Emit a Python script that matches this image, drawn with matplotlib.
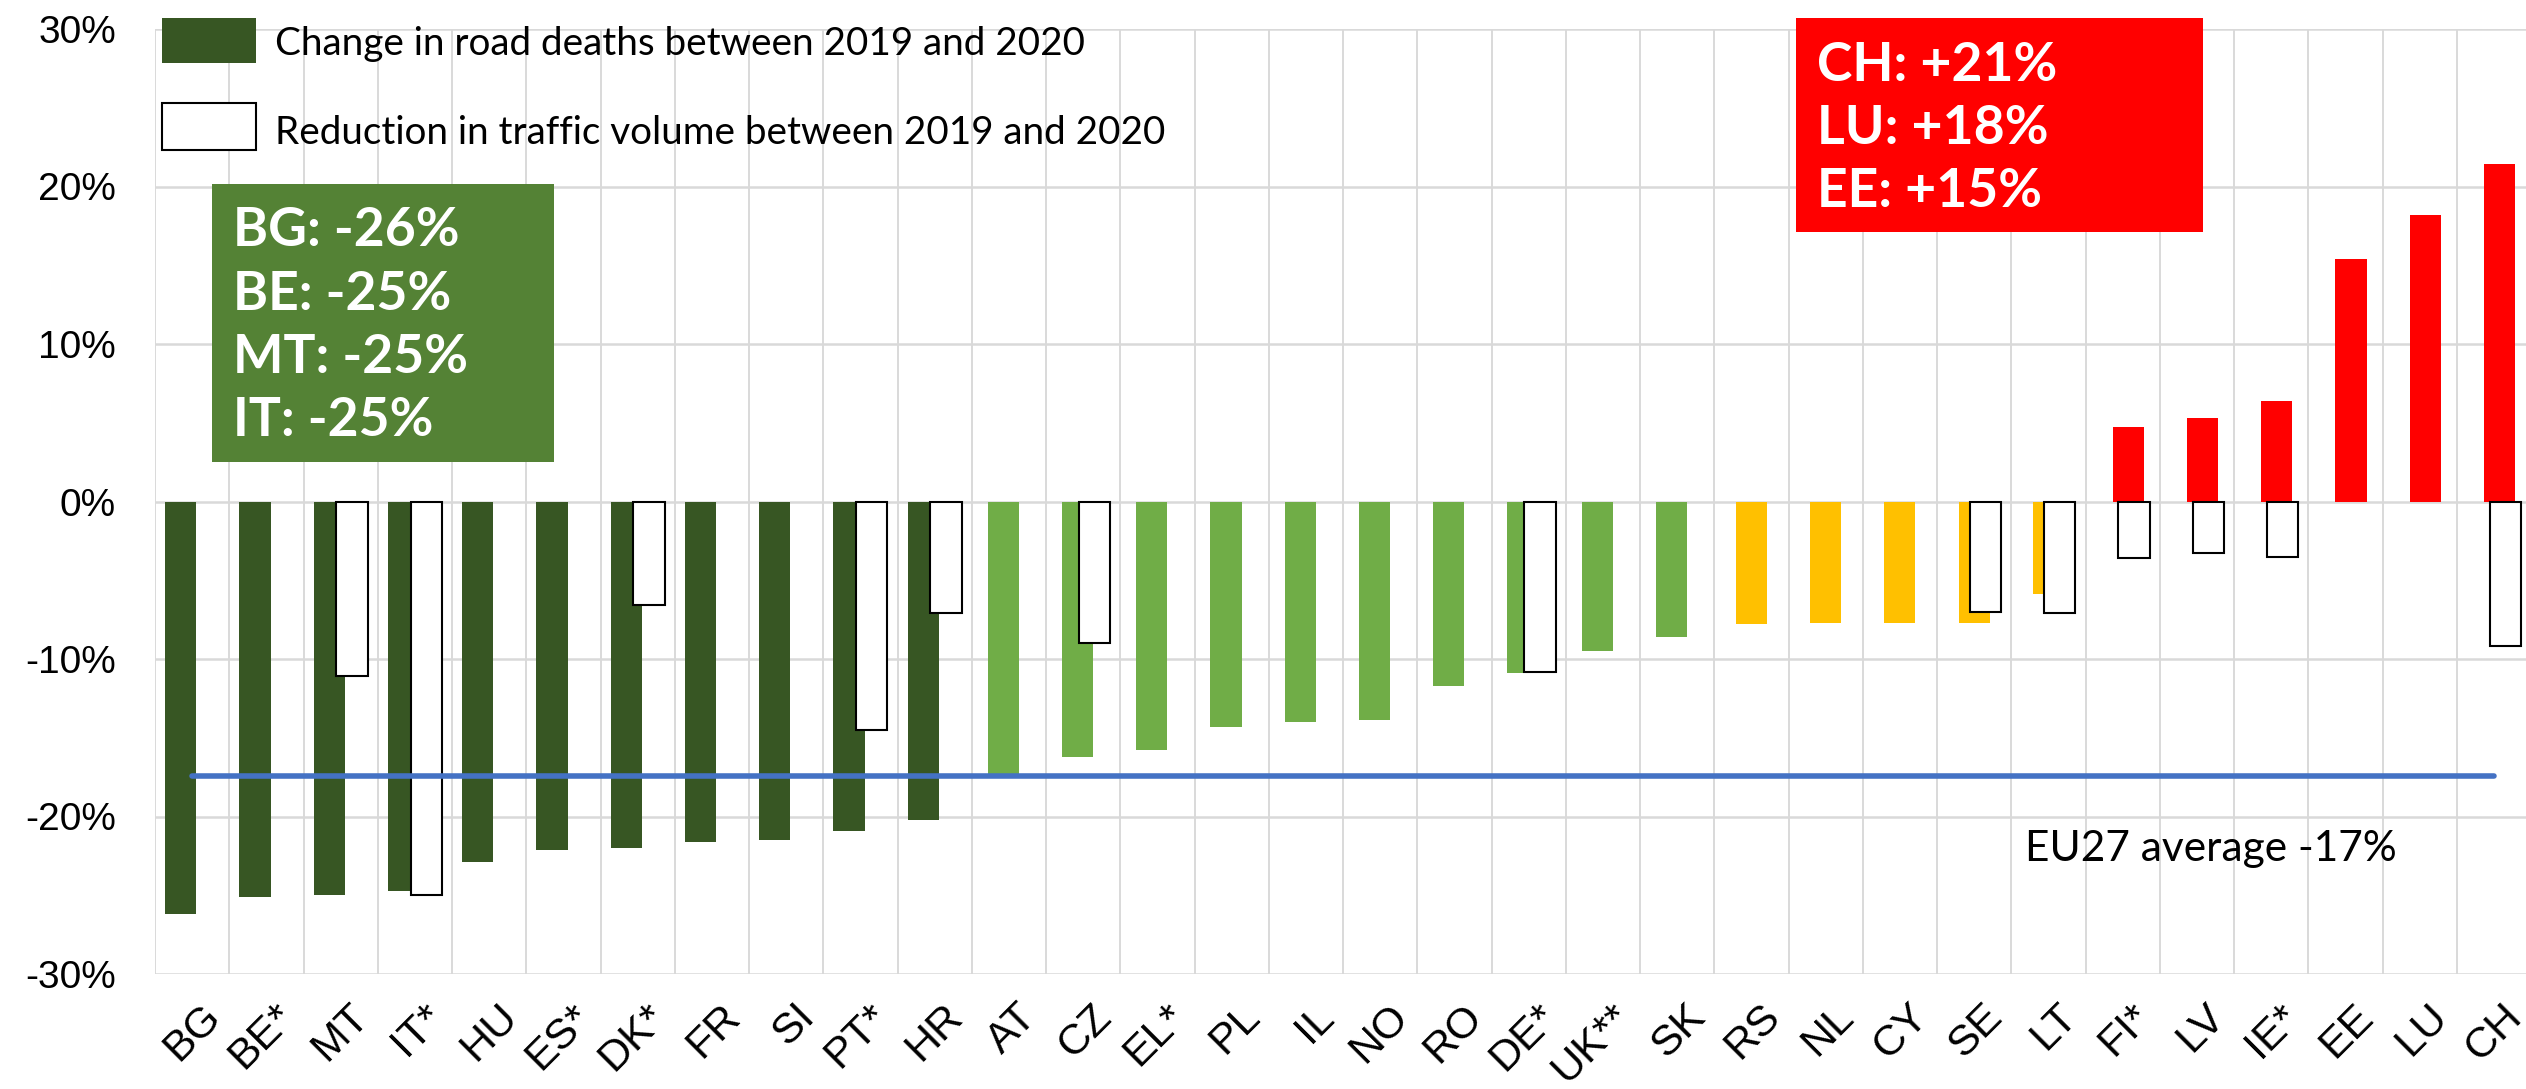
import numpy as np
import matplotlib
matplotlib.use("Agg")
import matplotlib.pyplot as plt
import matplotlib.transforms as mtransforms
from matplotlib.patches import Rectangle

# --- Data (percent change 2019 -> 2020) ---
countries = ['BG', 'BE*', 'MT', 'IT*', 'HU', 'ES*', 'DK*', 'FR', 'SI', 'PT*', 'HR',
             'AT', 'CZ', 'EL*', 'PL', 'IL', 'NO', 'RO', 'DE*', 'UK**', 'SK',
             'RS', 'NL', 'CY', 'SE', 'LT',
             'FI*', 'LV', 'IE*', 'EE', 'LU', 'CH']
deaths_change = [-26.2, -25.1, -25.0, -24.7, -22.9, -22.1, -22.0, -21.6, -21.5, -20.9, -20.2,
                 -17.3, -16.2, -15.8, -14.3, -14.0, -13.9, -11.7, -10.9, -9.5, -8.6,
                 -7.8, -7.7, -7.7, -7.7, -5.9,
                 4.7, 5.3, 6.4, 15.4, 18.2, 21.4]
traffic_change = [np.nan, np.nan, -11.1, -25.0, np.nan, np.nan, -6.6, np.nan, np.nan, -14.5, -7.1,
                  np.nan, -9.0, np.nan, np.nan, np.nan, np.nan, np.nan, -10.8, np.nan, np.nan,
                  np.nan, np.nan, np.nan, -7.0, -7.1,
                  -3.6, -3.3, -3.5, np.nan, np.nan, -9.2]
# colour group of each country: 0 dark green, 1 light green, 2 yellow, 3 red
groups = [0] * 11 + [1] * 10 + [2] * 5 + [3] * 6
eu27_average = -17.4

group_colors = ['#375623', '#70AD47', '#FFC000', '#FF0000']
traffic_series = 4  # Excel-like 5th series
box_green = '#548235'
grid_col = '#D9D9D9'

# --- Styling ---
W, H, dpi = 2526, 1089, 100
fig = plt.figure(figsize=(W / dpi, H / dpi), dpi=dpi)
ax = fig.add_axes([155 / W, (H - 974) / H, 2376 / W, 945 / H])

x = np.arange(len(countries))
bar_w = 0.42
step = 0.076  # series offset (heavy overlap)

deaths = np.array(deaths_change)
grp = np.array(groups)
for g, col in enumerate(group_colors):
    m = grp == g
    ax.bar(x[m] + (g - 2) * step, deaths[m], width=bar_w, color=col, zorder=2)

ax.bar(x + (traffic_series - 2) * step, traffic_change, width=bar_w,
       facecolor='white', edgecolor='black', linewidth=1.5, zorder=3)

ax.plot([x[0], x[-1]], [eu27_average, eu27_average], color='#4472C4', lw=4,
        solid_capstyle='round', zorder=4)

ax.set_xlim(-0.5, len(countries) - 0.5)
ax.set_ylim(-30, 30)
ax.set_yticks(np.arange(-30, 31, 10))
ax.set_yticklabels([f'{v}%' for v in range(-30, 31, 10)])
ax.set_xticks(x)
ax.set_xticklabels(countries, rotation=45, ha='right', va='top', rotation_mode='anchor')
ax.set_xticks(np.arange(-0.5, len(countries)), minor=True)
ax.tick_params(axis='both', which='both', length=0)
ax.tick_params(axis='y', labelsize=28, pad=28)
ax.tick_params(axis='x', labelsize=31, pad=16)
for lab in ax.get_yticklabels() + ax.get_xticklabels():
    lab.set_fontfamily('Liberation Sans')
offset = mtransforms.ScaledTranslation(8 / dpi, 0, fig.dpi_scale_trans)
for lab in ax.get_xticklabels():
    lab.set_transform(lab.get_transform() + offset)

ax.grid(axis='y', which='major', color=grid_col, lw=1.8, zorder=0)
ax.grid(axis='x', which='minor', color=grid_col, lw=1.4, zorder=0)
ax.set_axisbelow(True)
for s in ax.spines.values():
    s.set_visible(False)

# --- Legend (manual, above the bars) ---
ax.add_patch(Rectangle((-0.406, 27.87), 1.266, 2.86, facecolor='#375623',
                       edgecolor='none', clip_on=False, zorder=5))
ax.add_patch(Rectangle((-0.406, 22.29), 1.266, 3.04, facecolor='white',
                       edgecolor='black', lw=1.5, clip_on=False, zorder=5))
ax.text(1.116, 28.38, 'Change in road deaths between 2019 and 2020', fontsize=27.8,
        family='Lato', va='baseline', zorder=5)
ax.text(1.116, 22.73, 'Reduction in traffic volume between 2019 and 2020', fontsize=27.8,
        family='Lato', va='baseline', zorder=5)

# --- Highlight boxes ---
order = np.argsort(deaths)
low_lines = [f"{countries[i].rstrip('*')}: {deaths[i]:+.0f}%" for i in order[:4]]
high_lines = [f"{countries[i].rstrip('*')}: {deaths[i]:+.0f}%" for i in order[::-1][:3]]

ax.add_patch(Rectangle((0.268, 2.48), 4.606, 17.65, facecolor=box_green,
                       edgecolor='none', clip_on=False, zorder=6))
for k, line in enumerate(low_lines):
    ax.text(0.55, 16.2 - 4.02 * k, line, color='white', fontsize=38.5, fontweight='bold',
            family='Lato', va='baseline', zorder=7)

ax.add_patch(Rectangle((21.60, 17.14), 5.48, 13.59, facecolor='#FF0000',
                       edgecolor='none', clip_on=False, zorder=6))
for k, line in enumerate(high_lines):
    ax.text(21.88, 26.73 - 4.03 * k, line, color='white', fontsize=38.5, fontweight='bold',
            family='Lato', va='baseline', zorder=7)

ax.text(24.69, -22.8, f'EU27 average {eu27_average:.0f}%', fontsize=30.5, family='Lato',
        va='baseline', zorder=5)

fig.savefig('out.png', dpi=dpi)
